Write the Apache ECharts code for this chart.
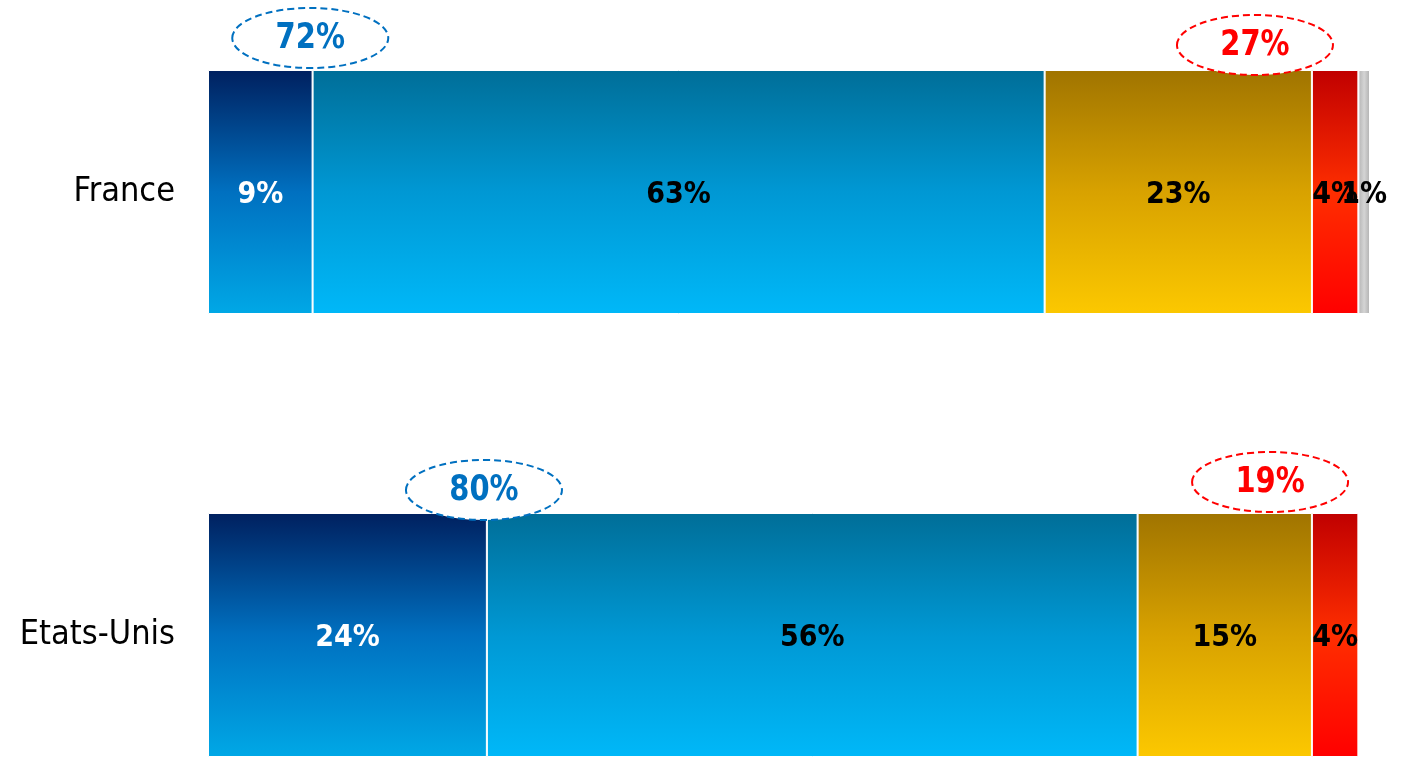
<!DOCTYPE html>
<html>
<head>
<meta charset="utf-8">
<script src="https://cdn.jsdelivr.net/npm/echarts@6/dist/echarts.min.js"></script>
<style>
  html, body { margin: 0; padding: 0; background: #ffffff; }
  #chart { width: 1405px; height: 765px; }
</style>
</head>
<body>
<div id="chart"></div>
<script>
// Pays comparés
const categories = ['France', 'Etats-Unis'];

// Répartition des réponses (%)
const toutAFaitPositif = [9, 24];
const plutotPositif = [63, 56];
const plutotNegatif = [23, 15];
const toutAFaitNegatif = [4, 4];
const sansOpinion = [1, 0];

const FONT = '"DejaVu Sans Condensed", "DejaVu Sans", sans-serif';

function vGrad(stops) {
  return new echarts.graphic.LinearGradient(0, 0, 0, 1,
    stops.map(function (s) { return { offset: s[0], color: s[1] }; }));
}

const segments = [
  { name: 'Tout à fait', data: toutAFaitPositif, labelColor: '#ffffff',
    fill: vGrad([[0, '#00205f'], [0.5, '#0070c0'], [1, '#00a8e6']]) },
  { name: 'Plutôt', data: plutotPositif, labelColor: '#000000',
    fill: vGrad([[0, '#006e98'], [0.5, '#0098d4'], [1, '#00b8f8']]) },
  { name: 'Plutôt pas', data: plutotNegatif, labelColor: '#000000',
    fill: vGrad([[0, '#a07400'], [0.5, '#d8a200'], [1, '#fcc800']]) },
  { name: 'Pas du tout', data: toutAFaitNegatif, labelColor: '#000000',
    fill: vGrad([[0, '#c00000'], [0.5, '#ff2e00'], [1, '#ff0000']]) },
  { name: 'NSP', data: sansOpinion, labelColor: '#000000',
    fill: new echarts.graphic.LinearGradient(0, 0, 1, 0, [
      { offset: 0, color: '#b4b4b4' }, { offset: 0.5, color: '#d4d4d4' }, { offset: 1, color: '#b0b0b0' }]) }
];

const chart = echarts.init(document.getElementById('chart'), null, { renderer: 'canvas' });

const series = segments.map(function (seg) {
  return {
    name: seg.name,
    type: 'bar',
    stack: 'total',
    barWidth: 244,
    clip: false,
    data: seg.data.map(function (v) { return v > 0 ? v : null; }),
    itemStyle: { color: seg.fill, borderColor: '#ffffff', borderWidth: 1 },
    label: {
      show: true,
      position: 'inside',
      offset: [0, 3],
      formatter: function (p) { return p.value > 0 ? p.value + '%' : ''; },
      color: seg.labelColor,
      fontFamily: FONT,
      fontWeight: 'bold',
      fontSize: 30
    },
    emphasis: { disabled: true }
  };
});

chart.setOption({
  animation: false,
  backgroundColor: '#ffffff',
  grid: {
    left: 208, right: 35, top: -29.5, bottom: -91.5,
    containLabel: false,
    outerBoundsMode: 'none'
  },
  xAxis: { type: 'value', min: 0, max: 100, show: false },
  yAxis: {
    type: 'category',
    data: categories,
    inverse: true,
    axisLine: { show: false },
    axisTick: { show: false },
    splitLine: { show: false },
    axisLabel: { color: '#000000', fontFamily: FONT, fontSize: 34, margin: 33 }
  },
  series: series
});

// Bulles de totaux : positifs (bleu) et négatifs (rouge)
const totalPositif = categories.map(function (_, i) { return toutAFaitPositif[i] + plutotPositif[i]; });
const totalNegatif = categories.map(function (_, i) { return plutotNegatif[i] + toutAFaitNegatif[i]; });

const halfBar = 122;
const callouts = [
  { row: 0, x: toutAFaitPositif[0] - 0.2, dy: -32, text: totalPositif[0] + '%', color: '#0070c0' },
  { row: 0, x: 90.1, dy: -25, text: totalNegatif[0] + '%', color: '#ff0000' },
  { row: 1, x: toutAFaitPositif[1] - 0.25, dy: -23, text: totalPositif[1] + '%', color: '#0070c0' },
  { row: 1, x: 91.4, dy: -31, text: totalNegatif[1] + '%', color: '#ff0000' }
];

const graphics = [];
callouts.forEach(function (c) {
  const p = chart.convertToPixel({ gridIndex: 0 }, [c.x, categories[c.row]]);
  const cx = p[0];
  const cy = p[1] - halfBar + c.dy;
  graphics.push({
    type: 'ellipse',
    z: 100,
    shape: { cx: cx, cy: cy, rx: 78, ry: 30 },
    style: { fill: '#ffffff', stroke: c.color, lineWidth: 2, lineDash: [7, 4] }
  });
  graphics.push({
    type: 'text',
    z: 101,
    x: cx,
    y: cy + 1,
    scaleX: 0.92,
    style: {
      text: c.text,
      fill: c.color,
      font: 'bold 35px ' + FONT,
      align: 'center',
      verticalAlign: 'middle'
    }
  });
});
chart.setOption({ graphic: graphics });
</script>
</body>
</html>
